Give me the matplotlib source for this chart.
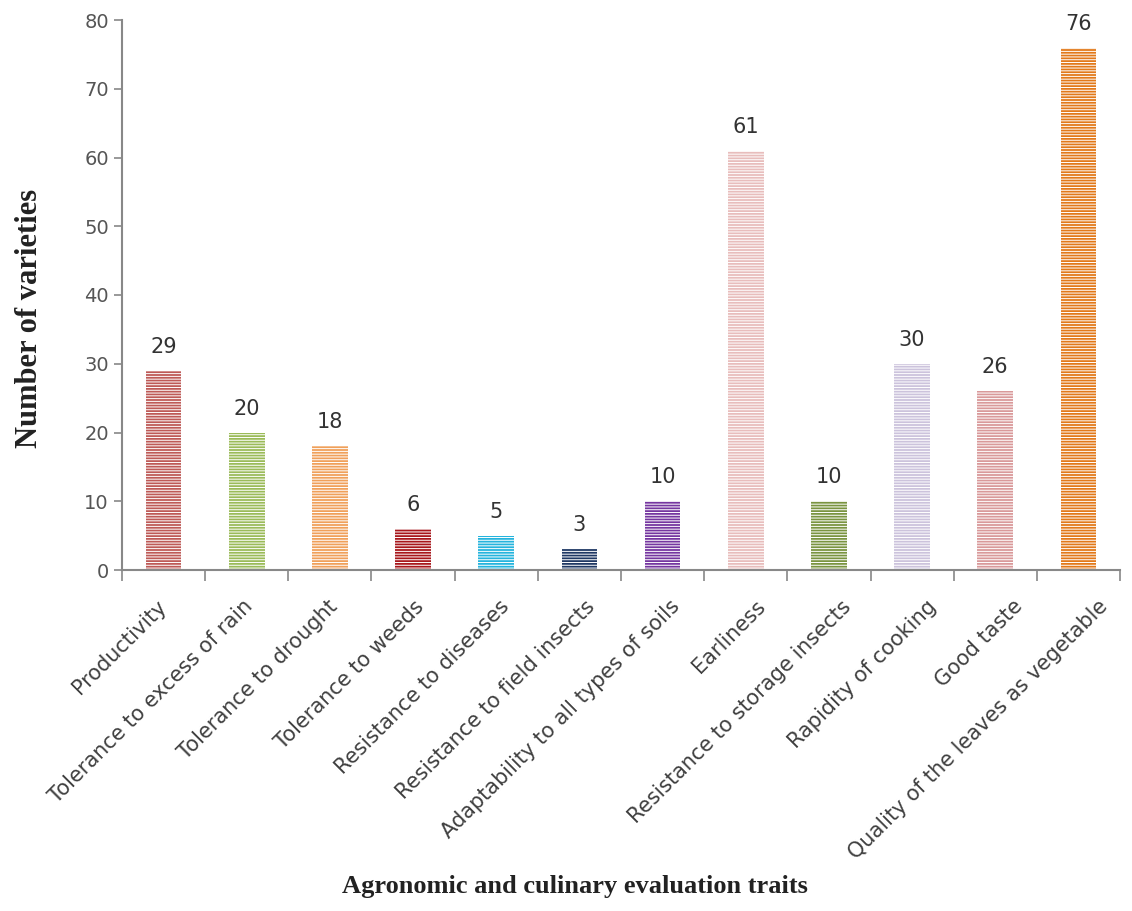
import numpy as np
import matplotlib
matplotlib.use("Agg")
import matplotlib.pyplot as plt
from matplotlib.transforms import ScaledTranslation

# data
traits = [
    "Productivity",
    "Tolerance to excess of rain",
    "Tolerance to drought",
    "Tolerance to weeds",
    "Resistance to diseases",
    "Resistance to field insects",
    "Adaptability to all types of soils",
    "Earliness",
    "Resistance to storage insects",
    "Rapidity of cooking",
    "Good taste",
    "Quality of the leaves as vegetable",
]
counts = [29, 20, 18, 6, 5, 3, 10, 61, 10, 30, 26, 76]
colors = ["#BE5A57", "#9BBB59", "#F0A05A", "#A8171C", "#25B4DD", "#1F3864",
          "#7536A0", "#E8BDBC", "#7A9440", "#CCC3DC", "#D9999A", "#E2791A"]

plt.rcParams["hatch.linewidth"] = 0.7

fig = plt.figure(figsize=(11.32, 9.11), dpi=100)
ax = fig.add_axes([122 / 1132, 1 - 570 / 911, (1120 - 122) / 1132, (570 - 20) / 911])

x = np.arange(len(traits))
for i in x:
    ax.bar(i, counts[i], width=0.43, color=colors[i], edgecolor="white",
           linewidth=0, hatch="------")
    ax.annotate(str(counts[i]), (i, counts[i]), xytext=(0, 10),
                textcoords="offset points", ha="center", va="bottom",
                fontsize=15, color="#333333")

ax.set_xlim(-0.5, len(traits) - 0.5)
ax.set_ylim(0, 80)
ax.set_yticks(range(0, 81, 10))
ax.tick_params(axis="y", labelsize=14, labelcolor="#555555", color="#888888",
               length=6, width=1.2)

ax.set_xticks(x)
ax.set_xticklabels(traits, rotation=45, ha="right", rotation_mode="anchor",
                   fontsize=15, color="#404040")
ax.set_xticks(np.arange(-0.5, len(traits), 1), minor=True)
ax.tick_params(axis="x", which="major", length=0, pad=19)
ax.tick_params(axis="x", which="minor", length=8, width=1.2, color="#888888")

# labels in the original drift slightly right of the bars
for i, lbl in enumerate(ax.get_xticklabels()):
    shift = ScaledTranslation((-7 + 2.4 * i) / 100, 0, fig.dpi_scale_trans)
    lbl.set_transform(lbl.get_transform() + shift)

for s in ["top", "right"]:
    ax.spines[s].set_visible(False)
for s in ["left", "bottom"]:
    ax.spines[s].set_color("#888888")
    ax.spines[s].set_linewidth(1.5)

fig.text(30 / 1132, 1 - 318 / 911, "Number of varieties", rotation=90,
         ha="center", va="center", fontsize=22, family="Liberation Serif",
         fontweight="bold", color="#222222")
fig.text(575 / 1132, 1 - 886 / 911, "Agronomic and culinary evaluation traits",
         ha="center", va="center", fontsize=19, family="Liberation Serif",
         fontweight="bold", color="#222222")

fig.savefig("out.png", dpi=100)
